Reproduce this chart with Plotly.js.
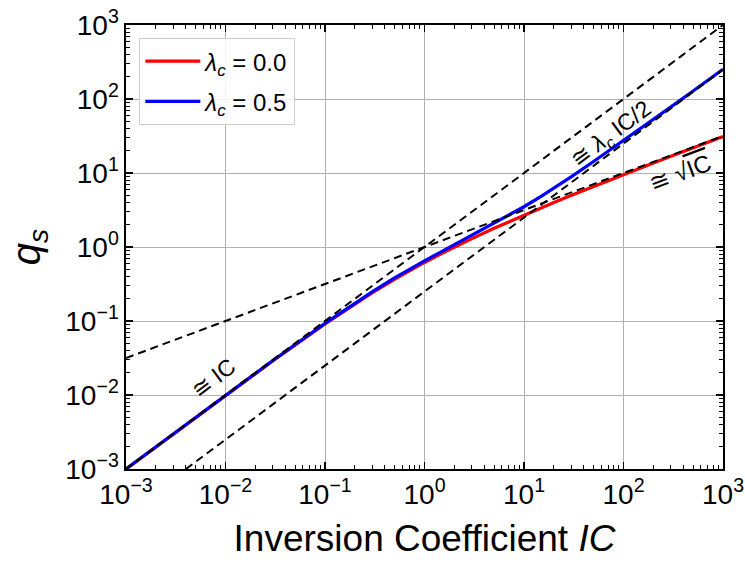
<!DOCTYPE html>
<html>
<head>
<meta charset="utf-8">
<script src="https://cdn.plot.ly/plotly-3.0.1.min.js"></script>
<style>html,body{margin:0;padding:0;background:#fff;}#chart{width:745px;height:566px;}</style>
</head>
<body>
<div id="chart"></div>
<script>
// Inversion coefficient sample points
const icPts = [0.001, 0.003, 0.01, 0.03, 0.1, 0.2, 0.3, 0.5, 0.7, 1, 1.5, 2, 3, 5, 7, 10, 15, 20, 30, 50, 70, 100, 150, 200, 300, 500, 700, 1000];
// q_s for lambda_c = 0.0 (red)
const qsLam0 = [0.001, 0.003, 0.0099, 0.0291, 0.0916, 0.171, 0.242, 0.366, 0.475, 0.618, 0.823, 1.0, 1.30, 1.79, 2.19, 2.70, 3.40, 4.0, 5.0, 6.59, 7.88, 9.51, 11.76, 13.65, 16.83, 21.9, 25.96, 31.1];
// q_s for lambda_c = 0.5 (blue)
const qsLam05 = [0.001, 0.003, 0.0099, 0.0293, 0.093, 0.175, 0.250, 0.383, 0.50, 0.65, 0.875, 1.08, 1.44, 2.08, 2.65, 3.5, 4.88, 6.25, 8.95, 14.3, 19.6, 27.6, 40.6, 53.2, 78.2, 128, 178, 253];
// Asymptotes (end points)
const asymIC_x = [0.001, 1000], asymIC_y = [0.001, 1000];
const asymSqrt_x = [0.001, 1000], asymSqrt_y = [0.0316, 31.6];
const asymLin_x = [0.004, 1000], asymLin_y = [0.001, 250];
const legendNames = ['<i>λ<sub>c</sub></i> = 0.0', '<i>λ<sub>c</sub></i> = 0.5'];
const tickVals = [0.001, 0.01, 0.1, 1, 10, 100, 1000];
const tickText = ['10<sup>−3</sup>', '10<sup>−2</sup>', '10<sup>−1</sup>', '10<sup>0</sup>', '10<sup>1</sup>', '10<sup>2</sup>', '10<sup>3</sup>'];

const FONT = 'Liberation Sans, Arial, Helvetica, sans-serif';
const dashStyle = {color: 'black', width: 2, dash: '8px,5px'};

const traces = [
  {x: icPts, y: qsLam0, mode: 'lines', name: legendNames[0], legendgroup: 'a', line: {color: '#ff0000', width: 3.2}},
  {x: icPts, y: qsLam05, mode: 'lines', name: legendNames[1], legendgroup: 'b', line: {color: '#0000ff', width: 3.2}},
  {x: asymIC_x, y: asymIC_y, mode: 'lines', showlegend: false, line: dashStyle, hoverinfo: 'skip'},
  {x: asymSqrt_x, y: asymSqrt_y, mode: 'lines', showlegend: false, line: dashStyle, hoverinfo: 'skip'},
  {x: asymLin_x, y: asymLin_y, mode: 'lines', showlegend: false, line: dashStyle, hoverinfo: 'skip'}
];

const axisCommon = {
  type: 'log',
  tickmode: 'array', tickvals: tickVals, ticktext: tickText,
  showgrid: true, gridcolor: '#b0b0b0', gridwidth: 1,
  showline: true, linecolor: 'black', linewidth: 1.6,
  mirror: 'allticks',
  ticks: 'inside', ticklen: 7, tickwidth: 1.3, tickcolor: 'black',
  minor: {ticks: 'inside', ticklen: 4, tickwidth: 1, tickcolor: 'black', showgrid: false, dtick: 'D1'},
  tickfont: {family: FONT, size: 28, color: 'black'},
  ticklabeloverflow: 'allow',
  zeroline: false
};

const layout = {
  width: 745, height: 566,
  margin: {l: 126, r: 22, t: 25, b: 97},
  paper_bgcolor: 'white', plot_bgcolor: 'white',
  font: {family: FONT, color: 'black'},
  xaxis: Object.assign({}, axisCommon, {
    range: [-3, 3],
    title: {text: 'Inversion Coefficient <i>IC</i>', font: {family: FONT, size: 37, color: 'black'}, standoff: 16}
  }),
  yaxis: Object.assign({}, axisCommon, {
    range: [-3, 3],
    title: {text: '<i>q<sub>s</sub></i>', font: {family: FONT, size: 40, color: 'black'}, standoff: 12}
  }),
  legend: {
    x: 0.022, y: 0.971, xanchor: 'left', yanchor: 'top',
    bgcolor: 'rgba(255,255,255,0.85)', bordercolor: '#cccccc', borderwidth: 1.2,
    font: {family: FONT, size: 24, color: 'black'},
    tracegroupgap: 6, itemwidth: 55
  },
  annotations: [
    {x: Math.log10(0.0075), y: Math.log10(0.017), xref: 'x', yref: 'y', text: '≅ IC', showarrow: false,
     textangle: -36.6, font: {family: FONT, size: 23, color: 'black'}},
    {x: Math.log10(76), y: Math.log10(32.7), xref: 'x', yref: 'y', text: '≅ <i>λ<sub>c</sub></i> IC/2', showarrow: false,
     textangle: -36.6, font: {family: FONT, size: 23, color: 'black'}},
    {x: Math.log10(370), y: Math.log10(10.3), xref: 'x', yref: 'y', text: '≅ √<span style="text-decoration:overline">IC</span>', showarrow: false,
     textangle: -20.4, font: {family: FONT, size: 24, color: 'black'}}
  ],
  showlegend: true
};

Plotly.newPlot('chart', traces, layout, {staticPlot: true, displayModeBar: false});
</script>
</body>
</html>
